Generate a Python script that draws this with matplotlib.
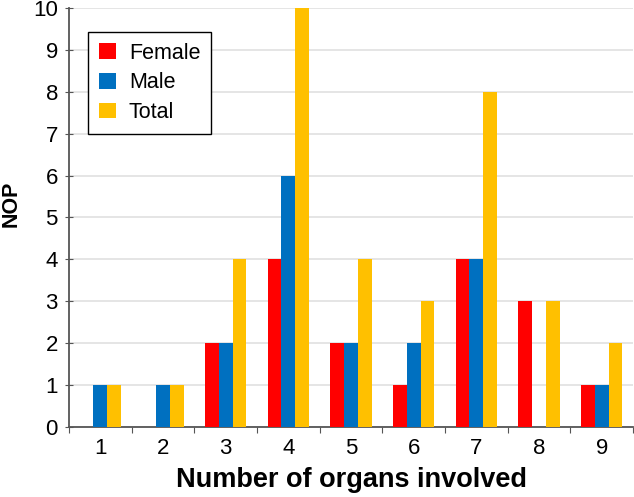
import matplotlib
matplotlib.use("Agg")
import matplotlib.pyplot as plt
import numpy as np

plt.rcParams['font.family'] = ['Liberation Sans', 'DejaVu Sans']

categories = ['1', '2', '3', '4', '5', '6', '7', '8', '9']
female = [0, 0, 2, 4, 2, 1, 4, 3, 1]
male = [1, 1, 2, 6, 2, 2, 4, 0, 1]
total = [1, 1, 4, 10, 4, 3, 8, 3, 2]

W, H = 634, 497
fig = plt.figure(figsize=(W/100, H/100), dpi=100)
L, R, T, B = 69, 633, 8, 427
ax = fig.add_axes([L/W, 1-B/H, (R-L)/W, (B-T)/H])

x = np.arange(1, len(categories) + 1)
w = 0.22
ax.bar(x - w, female, w, color='#FF0000', label='Female', zorder=3)
ax.bar(x, male, w, color='#0070C0', label='Male', zorder=3)
ax.bar(x + w, total, w, color='#FFC000', label='Total', zorder=3)

ax.set_xlim(0.5, len(categories) + 0.5)
ax.set_ylim(0, 10)
ax.set_yticks(range(0, 11))
ax.tick_params(axis='y', labelsize=16, length=6, direction='inout', color='#555555', pad=5)
ax.set_xticks(np.arange(0.5, len(categories) + 1, 1))
ax.set_xticklabels([])
ax.set_xticks(x, minor=True)
ax.set_xticklabels(categories, minor=True)
ax.tick_params(axis='x', which='major', length=4, color='#555555')
ax.tick_params(axis='x', which='minor', length=0, labelsize=16, pad=8)

ax.grid(axis='y', color='#E0E0E0', linewidth=1.2, zorder=0)
for s in ['top', 'right']:
    ax.spines[s].set_visible(False)
for s in ['left', 'bottom']:
    ax.spines[s].set_color('#555555')
    ax.spines[s].set_linewidth(1.3)

ax.set_xlabel('Number of organs involved', fontsize=19.5, fontweight='bold', labelpad=6)
ax.set_ylabel('NOP', fontsize=15.5, fontweight='bold')
ax.yaxis.set_label_coords((22 - L)/(R - L), (B - 204)/(B - T))

leg = ax.legend(loc='upper left', bbox_to_anchor=((88 - L)/(R - L), (B - 32)/(B - T)),
                borderaxespad=0, fontsize=15.5,
                frameon=True, fancybox=False, edgecolor='black', framealpha=1,
                handlelength=0.8, handleheight=0.75, handletextpad=0.6,
                borderpad=0.5, labelspacing=0.4)
leg.get_frame().set_linewidth(1.0)

fig.savefig('out.png', dpi=100)
